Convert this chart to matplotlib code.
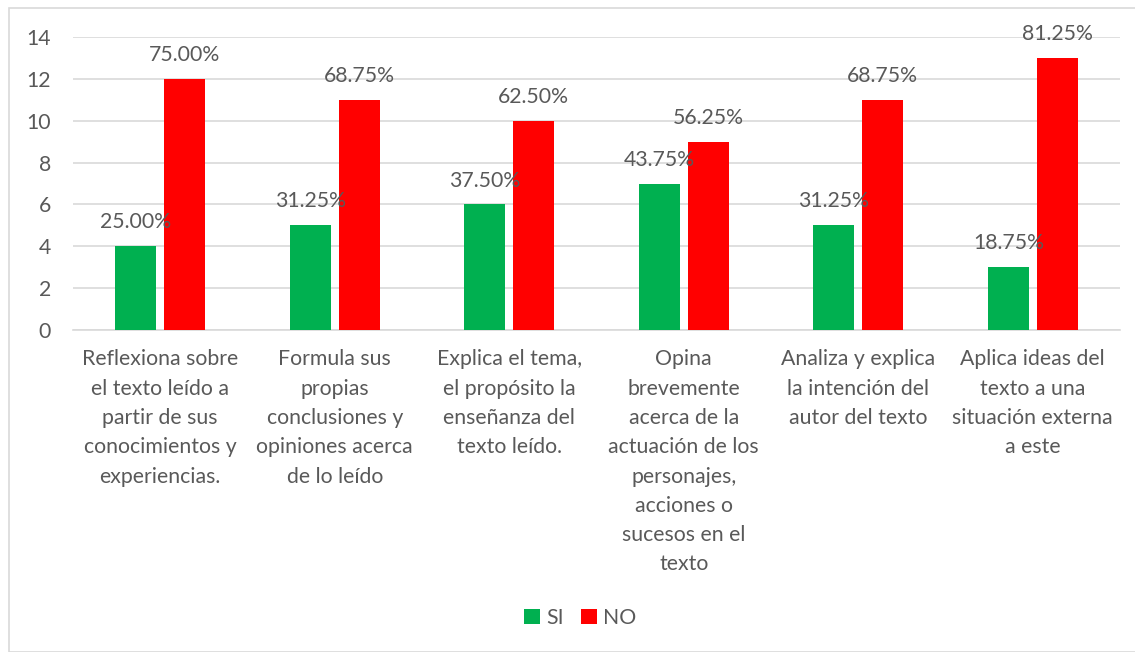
import matplotlib
matplotlib.use("Agg")
import matplotlib.pyplot as plt
from matplotlib.patches import Rectangle

categories = [
    "Reflexiona sobre\nel texto leído a\npartir de sus\nconocimientos y\nexperiencias.",
    "Formula sus\npropias\nconclusiones y\nopiniones acerca\nde lo leído",
    "Explica el tema,\nel propósito la\nenseñanza del\ntexto leído.",
    "Opina\nbrevemente\nacerca de la\nactuación de los\npersonajes,\nacciones o\nsucesos en el\ntexto",
    "Analiza y explica\nla intención del\nautor del texto",
    "Aplica ideas del\ntexto a una\nsituación externa\na este",
]
si_values = [4, 5, 6, 7, 5, 3]
no_values = [12, 11, 10, 9, 11, 13]
si_labels = ["25.00%", "31.25%", "37.50%", "43.75%", "31.25%", "18.75%"]
no_labels = ["75.00%", "68.75%", "62.50%", "56.25%", "68.75%", "81.25%"]
yticks = [0, 2, 4, 6, 8, 10, 12, 14]

plt.rcParams['font.family'] = ['Lato', 'DejaVu Sans']
txt = '#595959'
green = '#00b050'
red = '#ff0000'
fs = 15.3

fig = plt.figure(figsize=(11.35, 6.52), dpi=100)
# outer frame
fig.patches.append(Rectangle((9/1135, 0), 1.0, 1 - 8/652, transform=fig.transFigure,
                             fill=False, edgecolor='#d9d9d9', linewidth=1.2))
ax = fig.add_axes([73/1135, 1 - 330/652, (1120 - 73)/1135, (330 - 37)/652])

x = list(range(len(categories)))
off = 0.14
w = 0.235
xs = [i - off for i in x]
xn = [i + off for i in x]
b1 = ax.bar(xs, si_values, width=w, color=green, label='SI', zorder=3)
b2 = ax.bar(xn, no_values, width=w, color=red, label='NO', zorder=3)

for xi, v, l in zip(xs, si_values, si_labels):
    ax.annotate(l, (xi, v), xytext=(0, 10), textcoords='offset points',
                ha='center', va='bottom', fontsize=fs, color=txt, zorder=4)
for xi, v, l in zip(xn, no_values, no_labels):
    ax.annotate(l, (xi, v), xytext=(0, 10), textcoords='offset points',
                ha='center', va='bottom', fontsize=fs, color=txt, zorder=4)

ax.set_xlim(-0.5, len(categories) - 0.5)
ax.set_ylim(0, 14)
ax.set_yticks(yticks)
ax.set_yticklabels([str(t) for t in yticks], fontsize=fs, color=txt)
ax.set_xticks(x)
ax.set_xticklabels(categories, fontsize=fs, color=txt, linespacing=1.58)
ax.tick_params(axis='both', length=0)
ax.tick_params(axis='x', pad=14)
ax.tick_params(axis='y', pad=16)
ax.grid(axis='y', color='#d9d9d9', linewidth=1.2, zorder=0)
for s in ['top', 'right', 'left']:
    ax.spines[s].set_visible(False)
ax.spines['bottom'].set_color('#d9d9d9')
ax.spines['bottom'].set_linewidth(1.2)

fig.legend(handles=[b1, b2], labels=['SI', 'NO'], loc='center',
           bbox_to_anchor=(580/1135, 1 - 618/652), ncol=2, frameon=False,
           fontsize=fs, labelcolor=txt, handlelength=0.75, handleheight=0.75,
           handletextpad=0.3, columnspacing=0.8)

fig.savefig('out.png', dpi=100)
